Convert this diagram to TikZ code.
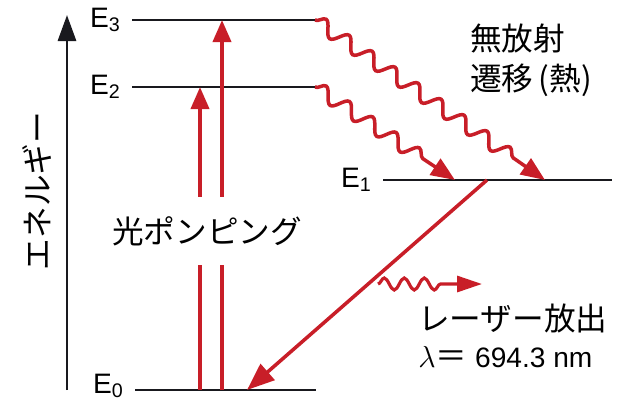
\documentclass[tikz,border=0pt]{standalone}
\usepackage{fontspec}
\setmainfont{Liberation Sans}
\newfontfamily\jpfont{Noto Sans CJK JP}
\usepackage{tikz}
\usetikzlibrary{arrows.meta, positioning, calc, decorations.pathmorphing}
\definecolor{rubyred}{RGB}{200,30,40}
\definecolor{leveldark}{RGB}{25,25,30}
\tikzset{
  level/.style={line width=1.1pt, color=leveldark},
  elabel/.style={inner sep=0pt, font=\fontsize{16}{19}\selectfont},
  jplabel/.style={inner sep=0pt, font=\jpfont\fontsize{18}{22.7}\selectfont},
  axis/.style={line width=1.7pt, color=leveldark,
    -{Triangle[length=0.52cm, width=0.36cm]}},
  pump/.style={line width=2.2pt, color=rubyred},
  pumparrow/.style={pump, -{Triangle[length=0.44cm, width=0.36cm]}},
  laser/.style={line width=2pt, color=rubyred,
    -{Triangle[length=0.55cm, width=0.42cm]}},
  heatwave/.style={line width=2pt, color=rubyred, decorate,
    decoration={snake, amplitude=0.14cm, segment length=0.56cm, post length=0.5cm},
    -{Triangle[length=0.48cm, width=0.38cm]}},
  photon/.style={line width=1.8pt, color=rubyred, decorate,
    decoration={snake, amplitude=0.12cm, segment length=0.4cm, post length=0.8cm},
    -{Triangle[length=0.5cm, width=0.32cm]}}
}

\begin{document}
\begin{tikzpicture}
  \useasboundingbox (0,0) rectangle (12.42,8.04);

  % Energy axis
  \coordinate (axisbot) at (1.34,0.24);
  \coordinate (axistop) at (1.34,7.74);
  \draw[axis] (axisbot) -- (axistop);
  \node[jplabel, rotate=90] (axislabel) at (0.74,4.22) {エネルギー};

  % Levels
  \coordinate (e3l) at (2.64,7.64);
  \coordinate (e3r) at (6.30,7.64);
  \coordinate (e2l) at (2.64,6.30);
  \coordinate (e2r) at (6.30,6.30);
  \coordinate (e1l) at (7.66,4.44);
  \coordinate (e1r) at (12.24,4.44);
  \coordinate (e0l) at (2.70,0.24);
  \coordinate (e0r) at (6.32,0.24);
  \draw[level] (e3l) -- (e3r);
  \draw[level] (e2l) -- (e2r);
  \draw[level] (e1l) -- (e1r);
  \draw[level] (e0l) -- (e0r);
  \node[elabel, left=0.22cm of e3l] (e3lab) {E\textsubscript{3}};
  \node[elabel, left=0.22cm of e2l] (e2lab) {E\textsubscript{2}};
  \node[elabel, left=0.22cm of e1l] (e1lab) {E\textsubscript{1}};
  \node[elabel, left=0.22cm of e0l, yshift=0.08cm] (e0lab) {E\textsubscript{0}};

  % Optical pumping
  \node[jplabel, minimum height=1.36cm] (pumplabel) at (4.14,3.42) {光ポンピング};
  \coordinate (p1) at (4.00,0.24);
  \coordinate (p2) at (4.44,0.24);
  \draw[pump] (p1) -- (p1 |- pumplabel.south);
  \draw[pumparrow] (p1 |- pumplabel.north) -- (p1 |- e2l);
  \draw[pump] (p2) -- (p2 |- pumplabel.south);
  \draw[pumparrow] (p2 |- pumplabel.north) -- (p2 |- e3l);

  % Non-radiative transitions
  \coordinate (heat3) at (10.90,4.44);
  \coordinate (heat2) at (9.10,4.44);
  \draw[heatwave] (e3r) -- (heat3);
  \draw[heatwave] (e2r) -- (heat2);
  \node[jplabel, anchor=west, align=left] (heatlabel) at (9.40,6.84) {無放射\\遷移\,(熱)};

  % Laser emission
  \coordinate (lasertop) at (9.74,4.44);
  \coordinate (laserend) at (4.94,0.24);
  \draw[laser] (lasertop) -- (laserend);
  \coordinate (photonstart) at (7.56,2.36);
  \coordinate (photonend) at (9.64,2.36);
  \draw[photon] (photonstart) -- (photonend);
  \node[jplabel, anchor=west] (laserlabel) at (8.36,1.68) {レーザー放出};
  \node[elabel, anchor=west] (wavelength) at (8.36,0.90) {$\lambda${\jpfont\fontsize{18}{22}\selectfont ＝} 694.3 nm};
\end{tikzpicture}
\end{document}
